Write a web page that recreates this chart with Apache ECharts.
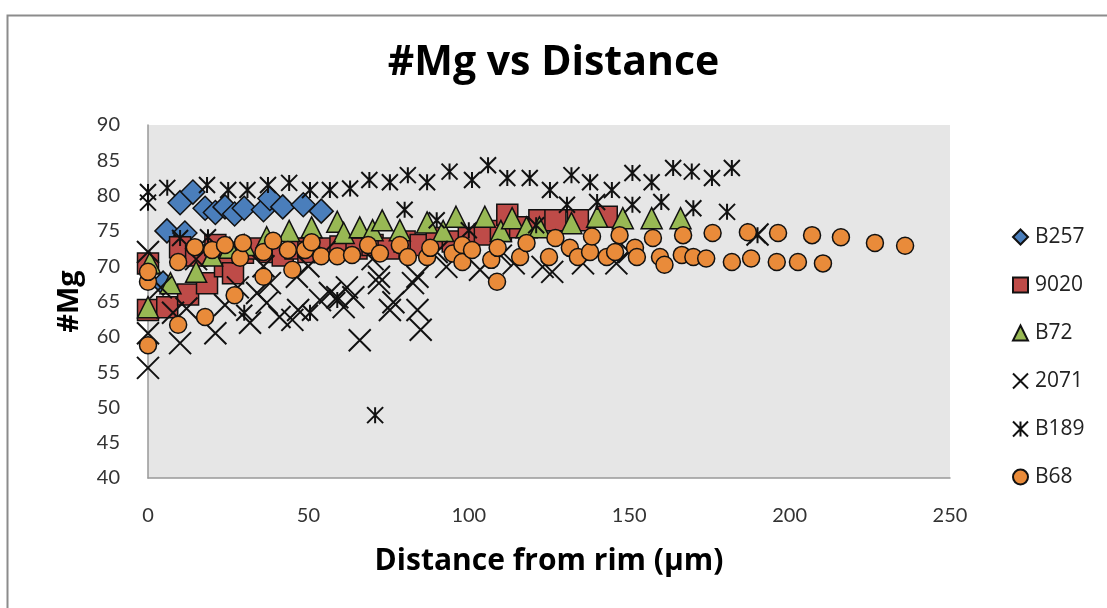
<!DOCTYPE html>
<html>
<head>
<meta charset="utf-8">
<script src="https://cdn.jsdelivr.net/npm/echarts@6/dist/echarts.min.js"></script>
<style>
html,body{margin:0;padding:0;background:#fff;}
#c{width:1107px;height:608px;}
</style>
</head>
<body>
<div id="c"></div>
<script>
const seriesNames = ["B257", "9020", "B72", "2071", "B189", "B68"];

const b257 = [[4.7,67.6],[5.9,75],[10,79],[11.5,74.7],[14,80.5],[17.8,78.2],[21,77.6],[24,78.4],[27,77.4],[30,78.2],[36,78],[38,79.6],[42,78.4],[48.4,78.7],[54,77.8]];

const s9020 = [[0,70.4],[0,63.8],[6,64.2],[10,72.7],[12.5,66],[15,71.5],[18.4,67.6],[21,73],[24,70],[26.5,69],[29.6,71.9],[33,72.5],[38,72],[42,71.5],[46,72.5],[50,72],[55,72.5],[60,72.8],[65,72.5],[70,73],[75,72.5],[80,73.5],[85,73],[90,74],[95,73.5],[100,74],[105,74.5],[110,75],[112,77.3],[116,75.5],[122,76.5],[127,76.5],[134,76.5],[143,77]];

const b72 = [[0,64.2],[0.6,70.5],[7,67.6],[15,69.2],[20,71.5],[25.5,72.6],[30,73],[37,74.1],[44,75],[51,75.5],[59,76.3],[61,74.7],[66,75.5],[70,75.1],[73,76.5],[78.5,75.1],[87,76.2],[92,75],[96,77],[105,77],[110,75],[113.5,76.8],[118,75.5],[122,75.5],[132,76.1],[140,77],[148,76.8],[157,76.8],[166,76.8]];

const s2071 = [[0,72],[0,60.5],[0,55.6],[4,67],[7.8,63.4],[10,59.1],[12,64],[15,71],[21,60.5],[24,64.5],[28,67],[31.8,62],[34,66.2],[36,70],[37,64.8],[38,67.6],[41,62.8],[45,62.4],[46.4,68.5],[46.8,63.8],[50,70],[53.6,65.2],[56.7,66.2],[59,65.6],[61,64.2],[64,65.6],[62,67],[66,59.5],[72,67.6],[72,68.5],[75.4,63.8],[76.5,64.9],[82.6,67.6],[84,63.8],[85,61],[84,68.5],[93,69.9],[103.5,69.5],[114,70.4],[123,69.9],[126,69.2],[135.6,70.4],[146,70.4],[55,72],[70,71],[90,72],[110,71.5],[150,72],[190,74.5]];

const b189 = [[0,80.5],[0,79],[6,81.1],[18.4,81.5],[25,80.8],[31,80.8],[37.4,81.5],[44,81.8],[50.5,80.8],[56.7,80.8],[63,81],[69,82.2],[75.4,81.9],[81,82.9],[87,81.9],[94,83.4],[101,82.2],[106,84.3],[112,82.5],[119,82.5],[125.3,80.8],[132,82.9],[137.8,81.9],[144.6,80.8],[151,83.2],[157,81.9],[163.7,83.9],[169.5,83.4],[175.8,82.5],[182,83.9],[10,74],[18.7,74.1],[80,78],[90,76.5],[100,75.1],[121,75.8],[130.6,78.7],[140,79.1],[151,78.7],[160,79.1],[170,78.2],[180.5,77.7],[190,74.4],[30,63.4],[50.5,63.4],[59,65.2],[70.8,48.9]];

const b68 = [[0,58.8],[0,67.8],[0,69.2],[9.4,61.7],[9.4,70.6],[14.6,72.7],[17.8,62.8],[20,72.3],[24,73],[27,65.9],[28.7,71.2],[29.6,73.3],[36,68.5],[36,72],[39,73.6],[43.6,72.3],[45,69.5],[49,72.3],[51,73.4],[54,71.4],[59,71.4],[63.6,71.6],[68.6,73],[72.3,71.8],[78.5,73],[81,71.3],[87,71.3],[88,72.6],[95,71.8],[98,73],[98,70.6],[101,72.3],[107,70.9],[109,72.6],[108.8,67.8],[116,71.3],[118,73.3],[125,71.3],[127,74],[131.5,72.6],[134,71.3],[137.8,72],[138.4,74.2],[143,71.3],[145.6,72],[147,74.4],[151.8,72.6],[152.4,71.3],[157.4,74],[159.6,71.3],[161,70.2],[166.8,74.4],[166.4,71.6],[170,71.3],[174,71.1],[176,74.7],[182,70.6],[187,74.8],[188,71.1],[196.4,74.7],[196,70.6],[202.6,70.6],[207,74.4],[210.4,70.4],[216,74.1],[226.6,73.3],[236,72.9]];

const xAxisRange = {min: 0, max: 250, interval: 50};
const yAxisRange = {min: 40, max: 90, interval: 5};

const FONT = 'Lato, "Open Sans", sans-serif';
const WIDE = '"Open Sans", Lato, sans-serif';
const X_PATH = 'path://M0 0 L10 10 M10 0 L0 10';
const STAR_PATH = 'path://M0 0 L10 10 M10 0 L0 10 M5 0 L5 10';

const chart = echarts.init(document.getElementById('c'), null, {renderer: 'canvas'});

function filled(name, data, symbol, size, color) {
  return {
    name, type: 'scatter', data, symbol, symbolSize: size,
    itemStyle: {color: color, borderColor: '#111', borderWidth: 1.5, opacity: 1},
    emphasis: {disabled: true}
  };
}
function stroked(name, data, symbol, size) {
  return {
    name, type: 'scatter', data, symbol, symbolSize: size,
    itemStyle: {color: 'rgba(0,0,0,0)', borderColor: '#111', borderWidth: 2, opacity: 1},
    emphasis: {disabled: true}
  };
}

chart.setOption({
  animation: false,
  backgroundColor: '#fff',
  title: {
    text: '#Mg vs Distance', left: 'center', top: 38,
    textStyle: {fontFamily: WIDE, fontWeight: 'bold', fontSize: 41, color: '#000'}
  },
  graphic: [{
    type: 'rect', left: 5, top: 13, silent: true, z: -10,
    shape: {width: 1120, height: 620},
    style: {fill: 'none', stroke: '#8c8c8c', lineWidth: 2}
  }],
  grid: {
    left: 148, right: 157, top: 125, bottom: 130,
    show: true, backgroundColor: '#E6E6E6', borderWidth: 0
  },
  legend: {
    orient: 'vertical', left: 1007, top: 221,
    itemGap: 26, itemWidth: 15, itemHeight: 15,
    textStyle: {fontFamily: WIDE, fontSize: 21, color: '#222', lineHeight: 22, padding: [0, 0, 0, 2]},
    data: seriesNames
  },
  xAxis: {
    type: 'value', min: xAxisRange.min, max: xAxisRange.max, interval: xAxisRange.interval,
    name: 'Distance from rim (µm)', nameLocation: 'middle', nameGap: 68,
    nameTextStyle: {fontFamily: WIDE, fontWeight: 'bold', fontSize: 30, color: '#000'},
    axisLine: {show: true, lineStyle: {color: '#999', width: 1.5}},
    axisTick: {show: false},
    splitLine: {show: false},
    axisLabel: {fontFamily: FONT, fontSize: 20, color: '#333', margin: 28}
  },
  yAxis: {
    type: 'value', min: yAxisRange.min, max: yAxisRange.max, interval: yAxisRange.interval,
    name: '#Mg', nameLocation: 'middle', nameGap: 64,
    nameTextStyle: {fontFamily: WIDE, fontWeight: 'bold', fontSize: 29, color: '#000'},
    axisLine: {show: true, lineStyle: {color: '#999', width: 1.5}},
    axisTick: {show: false},
    splitLine: {show: false},
    axisLabel: {fontFamily: FONT, fontSize: 20, color: '#333', margin: 28}
  },
  series: [
    filled(seriesNames[0], b257, 'diamond', 24, '#4A7EBB'),
    filled(seriesNames[1], s9020, 'rect', 21, '#BE4B48'),
    filled(seriesNames[2], b72, 'triangle', 21, '#98B954'),
    stroked(seriesNames[3], s2071, X_PATH, 22),
    stroked(seriesNames[4], b189, STAR_PATH, 16),
    filled(seriesNames[5], b68, 'circle', 17, '#E98B3A')
  ]
});
</script>
</body>
</html>
